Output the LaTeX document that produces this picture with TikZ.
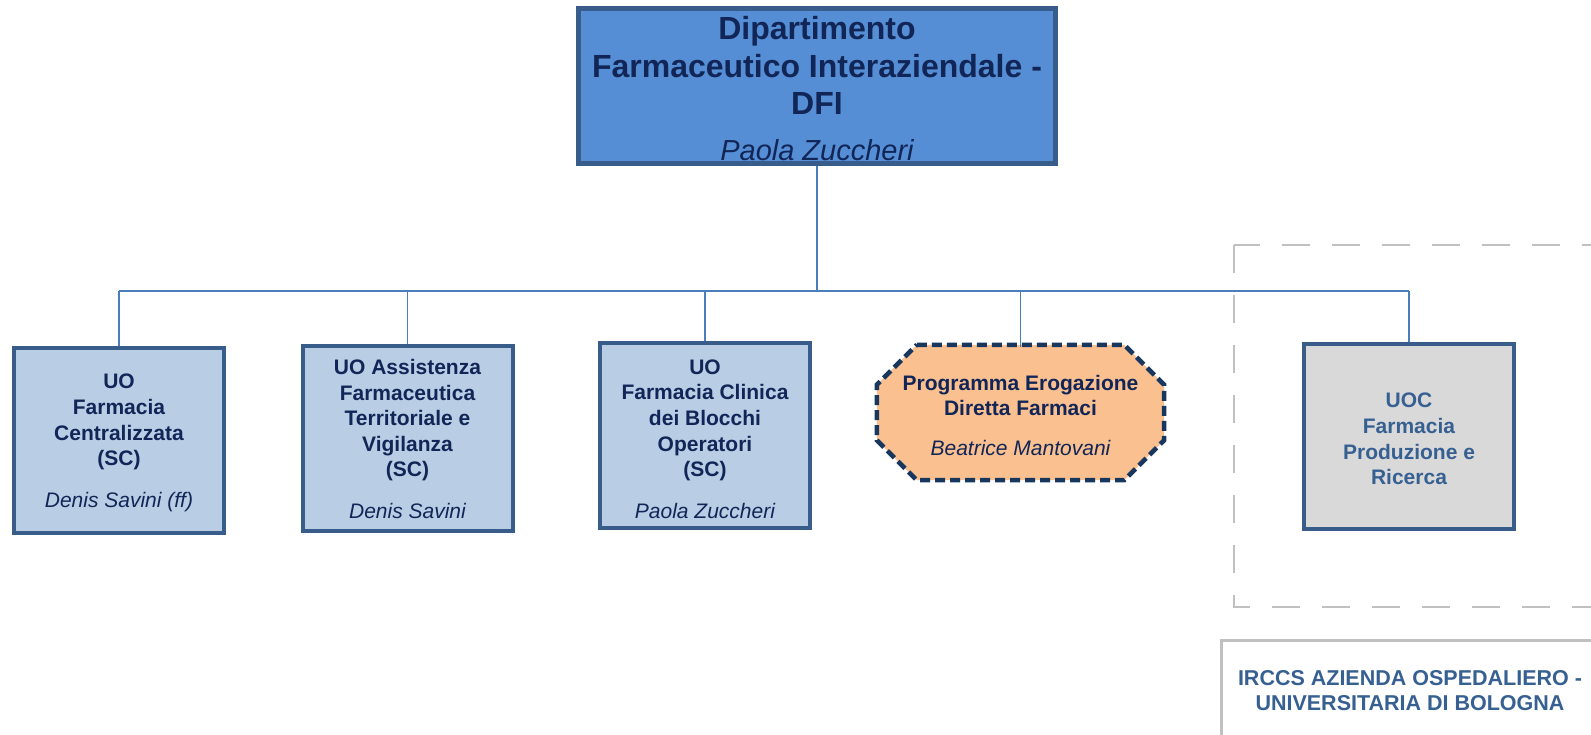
\documentclass[tikz,border=0pt]{standalone}
\usepackage{fontspec}
\setmainfont{Liberation Sans}
\usetikzlibrary{backgrounds}
\definecolor{topfill}{RGB}{85,142,213}
\definecolor{boxborder}{RGB}{56,93,138}
\definecolor{navytext}{RGB}{17,38,87}
\definecolor{boxfill}{RGB}{185,205,229}
\definecolor{octfill}{RGB}{250,192,144}
\definecolor{octborder}{RGB}{23,55,94}
\definecolor{uocfill}{RGB}{217,217,217}
\definecolor{uoctext}{RGB}{55,96,146}
\definecolor{connector}{RGB}{74,126,187}
\definecolor{greyline}{RGB}{192,192,192}
\tikzset{
  topbox/.style={draw=boxborder, fill=topfill, line width=5pt, rectangle,
    minimum width=477pt, minimum height=155pt, inner sep=0pt},
  toptext/.style={align=center, inner sep=0pt, text=navytext,
    font=\fontsize{32}{37.5}\selectfont\bfseries},
  unitbox/.style={draw=boxborder, fill=boxfill, line width=4pt, rectangle,
    minimum width=210pt, minimum height=185pt, inner sep=0pt},
  unittext/.style={align=center, inner sep=0pt, text=navytext,
    font=\fontsize{21}{25.6}\selectfont\bfseries},
  uocbox/.style={unitbox, fill=uocfill},
  uoctextstyle/.style={unittext, text=uoctext},
  octnode/.style={rectangle, minimum width=287pt, minimum height=135pt,
    inner sep=0pt},
  octtext/.style={align=center, inner sep=0pt, text=navytext,
    font=\fontsize{21}{24.6}\selectfont\bfseries},
  octline/.style={draw=octborder, fill=octfill, line width=4.5pt,
    dash pattern=on 10pt off 5pt},
  link/.style={draw=connector, line width=1.5pt},
  buslink/.style={draw=connector, line width=2.2pt},
  greydash/.style={draw=greyline, line width=2.7pt, dash pattern=on 28pt off 22pt},
  irccsbox/.style={draw=greyline, line width=3pt, rectangle, inner sep=0pt},
  irccstext/.style={align=center, text=uoctext, inner sep=0pt,
    font=\fontsize{21.5}{25}\selectfont\bfseries}
}
\newcommand{\pname}[1]{\mdseries\itshape #1}
\begin{document}
\begin{tikzpicture}[x=1pt,y=-1pt]
\useasboundingbox (0,0) rectangle (1591,734);
\clip (0,0) rectangle (1591,734);
\begin{scope}[on background layer]
\fill[white] (0,0) rectangle (1591,734);
\end{scope}

% grey dashed frame
\draw[greydash] (1234,245) rectangle (1660,607);

% IRCCS box
\node[irccsbox, anchor=north west, minimum width=440pt, minimum height=130pt] (irccs) at (1220,639) {};
\node[irccstext] (irccslabel) at (1410,690.5) {IRCCS AZIENDA OSPEDALIERO -\\UNIVERSITARIA DI BOLOGNA};

% top box
\node[topbox] (top) at (817,86) {};
\node[toptext] (topt) at ([yshift=-3pt]top.center) {Dipartimento\\Farmaceutico Interaziendale -\\DFI\\[8.5pt]{\fontsize{29}{34}\selectfont\pname{Paola Zuccheri}}};

% units
\node[unitbox] (u1) at (119,440.5) {};
\node[unittext] (u1t) at ([yshift=-2.5pt]u1.center) {UO\\Farmacia\\Centralizzata\\(SC)\\[16pt]\pname{Denis Savini (ff)}};
\node[unitbox] (u2) at (407.5,438) {};
\node[unittext] (u2t) at ([yshift=-1pt]u2.center) {UO Assistenza\\Farmaceutica\\Territoriale e\\Vigilanza\\(SC)\\[16pt]\pname{Denis Savini}};
\node[unitbox] (u3) at (705,435.5) {};
\node[unittext] (u3t) at ([yshift=-3.5pt]u3.center) {UO\\Farmacia Clinica\\dei Blocchi\\Operatori\\(SC)\\[16pt]\pname{Paola Zuccheri}};
\node[octnode] (oct) at (1020.5,412.5) {};
\node[octtext] (octt) at ([yshift=-3pt]oct.center) {Programma Erogazione\\Diretta Farmaci\\[15pt]\pname{Beatrice Mantovani}};
\node[uocbox] (uoc) at (1409,436.5) {};
\node[uoctextstyle] (uoct) at ([yshift=-2.5pt]uoc.center) {UOC\\Farmacia\\Produzione e\\Ricerca};

\begin{scope}[on background layer]
\draw[octline] ([xshift=40pt]oct.north west) -- ([xshift=-40pt]oct.north east)
  -- ([yshift=-40pt]oct.north east) -- ([yshift=40pt]oct.south east)
  -- ([xshift=-40pt]oct.south east) -- ([xshift=40pt]oct.south west)
  -- ([yshift=40pt]oct.south west) -- ([yshift=-40pt]oct.north west) -- cycle;
\end{scope}

% connectors
\coordinate (busL) at (u1.north |- 0,291);
\coordinate (busR) at (uoc.north |- 0,291);
\draw[buslink] (busL) -- (busR);
\draw[link] (top.south) -- (top.south |- busL);
\draw[link] (u1.north) -- (u1.north |- busL);
\draw[link] (u2.north) -- (u2.north |- busL);
\draw[link] (u3.north) -- (u3.north |- busL);
\draw[link] ([yshift=-2pt]oct.north) -- (oct.north |- busL);
\draw[link] (uoc.north) -- (uoc.north |- busL);
\end{tikzpicture}
\end{document}
